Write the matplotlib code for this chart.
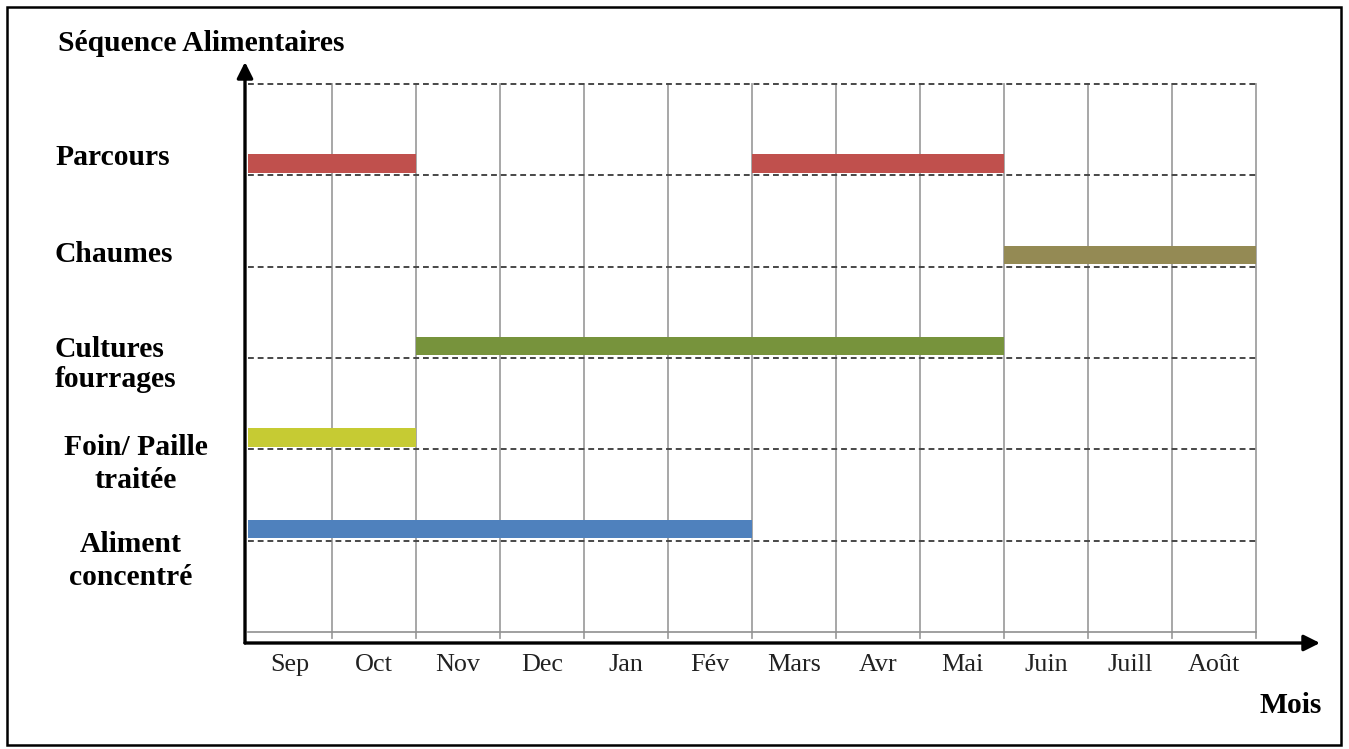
import matplotlib
matplotlib.use("Agg")
import matplotlib.pyplot as plt
from matplotlib.patches import Rectangle

# ---- data ----
months = ["Sep", "Oct", "Nov", "Dec", "Jan", "Fév", "Mars", "Avr", "Mai", "Juin", "Juill", "Août"]
categories = ["Parcours", "Chaumes", "Cultures\nfourrages", "Foin/ Paille\ntraitée", "Aliment\nconcentré"]
levels = [5, 4, 3, 2, 1]
# (start month index, end month index) periods per category
periods = {
    "Parcours": [(0, 2), (6, 9)],
    "Chaumes": [(9, 12)],
    "Cultures\nfourrages": [(2, 9)],
    "Foin/ Paille\ntraitée": [(0, 2)],
    "Aliment\nconcentré": [(0, 6)],
}
colors = {
    "Parcours": "#C0504D",
    "Chaumes": "#948A54",
    "Cultures\nfourrages": "#77933C",
    "Foin/ Paille\ntraitée": "#C6CB33",
    "Aliment\nconcentré": "#4F81BD",
}

W, H = 1349, 749
fig = plt.figure(figsize=(W / 100, H / 100), dpi=100)
serif = ["Liberation Serif", "DejaVu Serif"]

# axes placed in pixel space
px_left, px_right, px_top, px_bot = 245, 1320, 60, 645
ax = fig.add_axes([px_left / W, (H - px_bot) / H, (px_right - px_left) / W, (px_bot - px_top) / H])
x0px, dxpx = 248, 84.0
y0px, dypx = 632, 91.33
ax.set_xlim((px_left - x0px) / dxpx, (px_right - x0px) / dxpx)
ax.set_ylim((y0px - px_bot) / dypx, (y0px - px_top) / dypx)
ax.axis("off")

nm = len(months)
top_level = 6
# vertical grid lines
for i in range(1, nm + 1):
    ax.plot([i, i], [-0.07, top_level], color="#a0a0a0", lw=1.3, zorder=1)
# horizontal solid baseline
ax.plot([0, nm], [0, 0], color="#909090", lw=1.2, zorder=1)
# dashed lines
for lv in range(1, top_level + 1):
    ax.plot([0, nm], [lv, lv], color="#484848", lw=1.4, dashes=(3, 2), zorder=2)

# bars
for cat, lv in zip(categories, levels):
    for s, e in periods[cat]:
        ax.add_patch(Rectangle((s, lv + 0.03), e - s, 0.2, facecolor=colors[cat],
                               edgecolor="none", zorder=3))

# axes arrows
ax_x = (px_left - x0px) / dxpx
ax_y = (y0px - 643) / dypx
ax.annotate("", xy=(ax_x, (y0px - 62) / dypx), xytext=(ax_x, ax_y),
            arrowprops=dict(arrowstyle="-|>", lw=2.4, color="black", mutation_scale=24,
                            shrinkA=0, shrinkB=0), annotation_clip=False, zorder=5)
ax.annotate("", xy=((1320 - x0px) / dxpx, ax_y), xytext=(ax_x, ax_y),
            arrowprops=dict(arrowstyle="-|>", lw=2.4, color="black", mutation_scale=24,
                            shrinkA=0, shrinkB=0), annotation_clip=False, zorder=5)

# month labels
for i, m in enumerate(months):
    ax.text(i + 0.5, (y0px - 671) / dypx, m, ha="center", va="baseline",
            fontsize=18.8, family=serif, color="#222222")

# figure-level text helpers (pixel coordinates)
def ftext(x, y, s, ha="left", size=21.3, weight="bold"):
    fig.text(x / W, 1 - y / H, s, ha=ha, va="baseline", fontsize=size,
             family=serif, weight=weight, color="black")

ftext(58, 51, "Séquence Alimentaires", size=21.3)
ftext(55, 165, "Parcours")
ftext(55, 262, "Chaumes")
ftext(55, 357, "Cultures")
ftext(55, 387, "fourrages")
ftext(136, 455, "Foin/ Paille", ha="center")
ftext(136, 488, "traitée", ha="center")
ftext(131, 552, "Aliment", ha="center")
ftext(131, 585, "concentré", ha="center")
ftext(1322, 713, "Mois", ha="right")

# outer frame
fig.patches.append(Rectangle((7 / W, 1 - 745 / H), (1341 - 7) / W, (745 - 7) / H,
                             transform=fig.transFigure, fill=False, edgecolor="black", lw=1.8))

fig.savefig("out.png", dpi=100)
